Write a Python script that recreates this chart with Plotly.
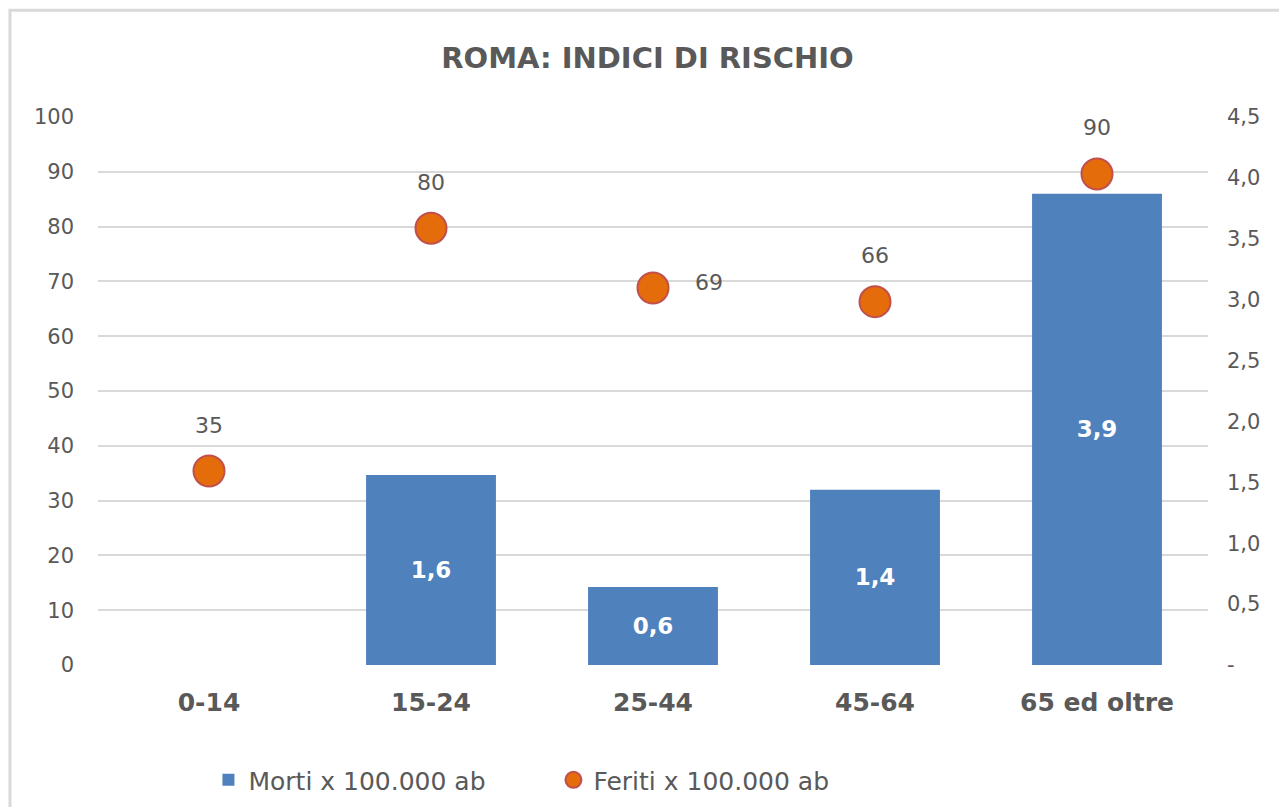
import plotly.graph_objects as go

categories = ["0-14", "15-24", "25-44", "45-64", "65 ed oltre"]
morti = [0, 1.56, 0.64, 1.44, 3.87]
morti_labels = ["", "1,6", "0,6", "1,4", "3,9"]
feriti = [35.4, 79.7, 68.8, 66.3, 89.6]
feriti_labels = ["35", "80", "69", "66", "90"]
left_ticks = [0, 10, 20, 30, 40, 50, 60, 70, 80, 90, 100]
right_tickvals = [0, 0.5, 1.0, 1.5, 2.0, 2.5, 3.0, 3.5, 4.0, 4.5]
right_ticktext = ["-", "0,5", "1,0", "1,5", "2,0", "2,5", "3,0", "3,5", "4,0", "4,5"]

FONT = "DejaVu Sans"
GRAY = "#595959"

fig = go.Figure()
fig.add_trace(go.Bar(
    x=categories, y=morti, yaxis="y2", name="Morti x 100.000 ab",
    marker=dict(color="#4F81BD", line=dict(width=0)), width=0.585,
    text=morti_labels, textposition="inside", insidetextanchor="middle",
    textfont=dict(family=FONT, size=23, color="white", weight="bold"),
    textangle=0,
))
fig.add_trace(go.Scatter(
    x=categories, y=feriti, yaxis="y", name="Feriti x 100.000 ab", mode="markers",
    marker=dict(size=31, color="#E46C0A", line=dict(color="#C0504D", width=2)),
))

for i, (c, v, t) in enumerate(zip(categories, feriti, feriti_labels)):
    if i == 2:
        fig.add_annotation(x=c, y=v, text=t, showarrow=False, xshift=56, yshift=5,
                           font=dict(family=FONT, size=22, color=GRAY))
    else:
        fig.add_annotation(x=c, y=v, text=t, showarrow=False, yshift=46,
                           font=dict(family=FONT, size=22, color=GRAY))

fig.add_shape(type="rect", xref="paper", yref="paper",
              x0=-0.0793, x1=1.2, y0=-0.5, y1=1.195,
              line=dict(color="#D9D9D9", width=3), layer="below")

fig.update_layout(
    width=1279, height=799,
    margin=dict(l=90, r=79, t=109, b=142, autoexpand=False),
    paper_bgcolor="white", plot_bgcolor="white",
    separators=",.",
    title=dict(text="<b>ROMA: INDICI DI RISCHIO</b>", x=0.5, xanchor="center",
               y=0.937, yanchor="middle",
               font=dict(family=FONT, size=29, color=GRAY)),
    font=dict(family=FONT, color=GRAY),
    xaxis=dict(showgrid=False, showline=False, ticks="", automargin=False,
               tickfont=dict(family=FONT, size=25, color=GRAY, weight="bold"),
               ticklabelstandoff=20),
    yaxis=dict(range=[0, 100], tickvals=left_ticks, showgrid=True, gridcolor="#D9D9D9",
               gridwidth=1.5, zeroline=False, showline=False, automargin=False,
               tickfont=dict(family=FONT, size=21, color=GRAY), ticklabelstandoff=23),
    yaxis2=dict(range=[0, 4.5], overlaying="y", side="right", tickvals=right_tickvals,
                ticktext=right_ticktext, showgrid=False, zeroline=False, showline=False,
                automargin=False,
                tickfont=dict(family=FONT, size=21, color=GRAY), ticklabelstandoff=18),
    legend=dict(orientation="h", x=0.0995, xanchor="left", y=-0.21, yanchor="middle",
                font=dict(family=FONT, size=25, color=GRAY), traceorder="normal",
                itemwidth=30, entrywidth=300, entrywidthmode="pixels"),
    showlegend=True,
)

fig.write_html("out.html")
